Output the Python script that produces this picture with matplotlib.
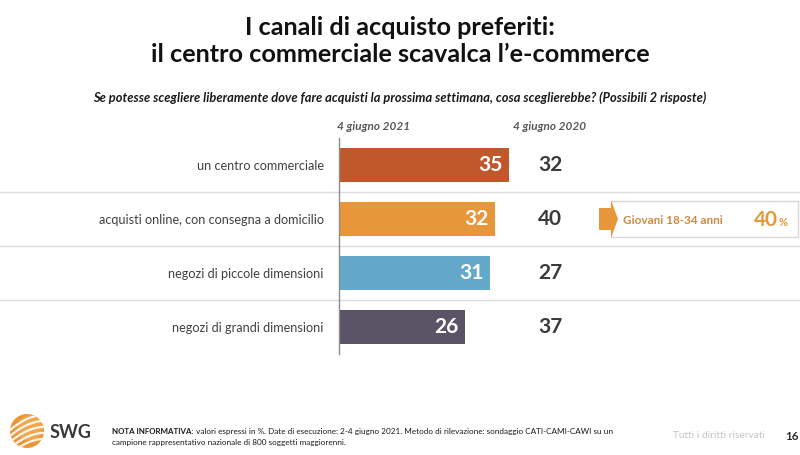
import numpy as np
import matplotlib.pyplot as plt
import matplotlib.transforms as mtransforms
from matplotlib.patches import Rectangle, Polygon, Circle

# data
categories = [
    'un centro commerciale',
    'acquisti online, con consegna a domicilio',
    'negozi di piccole dimensioni',
    'negozi di grandi dimensioni',
]
values_2021 = [35, 32, 31, 26]
values_2020 = [32, 40, 27, 37]
bar_colors = ['#C0582B', '#E8963A', '#64A9C9', '#5B5467']
header_2021 = '4 giugno 2021'
header_2020 = '4 giugno 2020'
callout_label = 'Giovani 18-34 anni'
callout_value = 40

title_lines = ['I canali di acquisto preferiti:',
               'il centro commerciale scavalca l\u2019e-commerce']
subtitle = ('Se potesse scegliere liberamente dove fare acquisti la prossima settimana, '
            'cosa sceglierebbe? (Possibili 2 risposte)')
note_bold = 'NOTA INFORMATIVA:'
note_text = (' valori espressi in %. Date di esecuzione: 2-4 giugno 2021. Metodo di rilevazione: '
             'sondaggio CATI-CAMI-CAWI su un')
note_text2 = 'campione rappresentativo nazionale di 800 soggetti maggiorenni.'

plt.rcParams['font.family'] = ['Lato', 'DejaVu Sans']

W, H = 800, 455
fig = plt.figure(figsize=(W / 100, H / 100), dpi=100)

# background axes in pixel coordinates
bg = fig.add_axes([0, 0, 1, 1], zorder=0)
bg.set_xlim(0, W)
bg.set_ylim(H, 0)
bg.axis('off')

# bar axes
px_per_unit = 4.86
x0_px, top_px, row_px = 339, 138, 54
ax = fig.add_axes([x0_px / W, 1 - (top_px + 4 * row_px) / H,
                   px_per_unit * 50 / W, 4 * row_px / H], zorder=1)
ax.set_facecolor('none')
y = np.arange(len(categories))
ax.barh(y, values_2021, height=0.62, color=bar_colors)
ax.set_xlim(0, 50)
ax.set_ylim(len(categories) - 0.5, -0.5)
ax.set_yticks(y)
ax.set_yticklabels(categories, fontsize=9.1, color='#404040')
ax.tick_params(axis='y', length=0, pad=11)
ax.set_xticks([])
for side in ['top', 'right', 'bottom']:
    ax.spines[side].set_visible(False)
ax.spines['left'].set_color('#8c8c8c')
ax.spines['left'].set_linewidth(1)

for i, v in enumerate(values_2021):
    ax.text(v - 1.3, i, str(v), ha='right', va='center', color='white',
            fontsize=15, fontweight='bold')

# 2020 values and row separators across the whole slide
row_trans = mtransforms.blended_transform_factory(bg.transData, ax.transData)
for i, v in enumerate(values_2020):
    ax.text(550, i, str(v), transform=row_trans, ha='center', va='center',
            color='#3b3b3b', fontsize=15, fontweight='bold')
for i in range(len(categories) - 1):
    ax.plot([0, W], [i + 0.5, i + 0.5], transform=row_trans, color='#dedede',
            linewidth=1, clip_on=False, zorder=0)

# column headers
bg.text(337, 127, header_2021, ha='left', va='center', fontsize=8.5,
        fontstyle='italic', fontweight='bold', color='#595959')
bg.text(550, 127, header_2020, ha='center', va='center', fontsize=8.5,
        fontstyle='italic', fontweight='bold', color='#595959')

# title and question
for line, base in zip(title_lines, [35, 62]):
    bg.text(400, base, line, ha='center', va='baseline', fontsize=18.2,
            fontweight='bold', color='#111111')
bg.text(400, 98, subtitle, ha='center', va='center', fontsize=9.3,
        fontstyle='italic', fontweight='bold', color='#1a1a1a')

# callout for young people
bg.add_patch(Rectangle((611, 201), 187, 36, facecolor='white',
                       edgecolor='#d9d9d9', linewidth=1))
bg.add_patch(Polygon([(599, 208), (611, 208), (611, 200), (618, 219),
                      (611, 238), (611, 230), (599, 230)],
                     closed=True, facecolor='#E8963A', edgecolor='none'))
bg.text(623, 220, callout_label, ha='left', va='center', fontsize=8.5,
        fontweight='bold', color='#CC8B3E')
bg.text(778, 226, str(callout_value), ha='right', va='baseline', fontsize=15,
        fontweight='bold', color='#E39A3B')
bg.text(779, 226, '%', ha='left', va='baseline', fontsize=8,
        fontweight='bold', color='#E39A3B')

# footer: logo
cx, cy, r = 27, 431, 17
logo = Circle((cx, cy), r, facecolor='#EC9538', edgecolor='none')
bg.add_patch(logo)
bg.add_patch(Circle((cx + 3, cy - 3), r * 0.75, facecolor='#F3B45A', edgecolor='none',
                    alpha=0.6, clip_path=logo))
for k in [-12, -6, 0, 6, 12]:
    xs = np.linspace(cx - r, cx + r, 40)
    ys = cy + k - 0.45 * (xs - cx) + 0.012 * (xs - cx) ** 2
    ln, = bg.plot(xs, ys, color='white', linewidth=1.6, alpha=0.9)
    ln.set_clip_path(logo)
bg.text(50, 432, 'SWG', ha='left', va='center', fontsize=13, fontweight='bold',
        color='#3a3a3a')

# footer: note
nb = bg.text(112, 434, note_bold, ha='left', va='baseline', fontsize=5.7,
             fontweight='bold', color='#1a1a1a')
bg.annotate(note_text, xy=(1, 0), xycoords=nb, ha='left', va='bottom',
            fontsize=5.9, color='#1a1a1a')
bg.text(112, 445, note_text2, ha='left', va='baseline', fontsize=5.9, color='#1a1a1a')
bg.text(765, 436, 'Tutti i diritti riservati', ha='right', va='center', fontsize=7.3,
        color='#c4c4c4')
bg.text(785, 436, '16', ha='left', va='center', fontsize=8.3, fontweight='bold',
        color='#2a2a2a')

fig.savefig('out.png', dpi=100, facecolor='white')
